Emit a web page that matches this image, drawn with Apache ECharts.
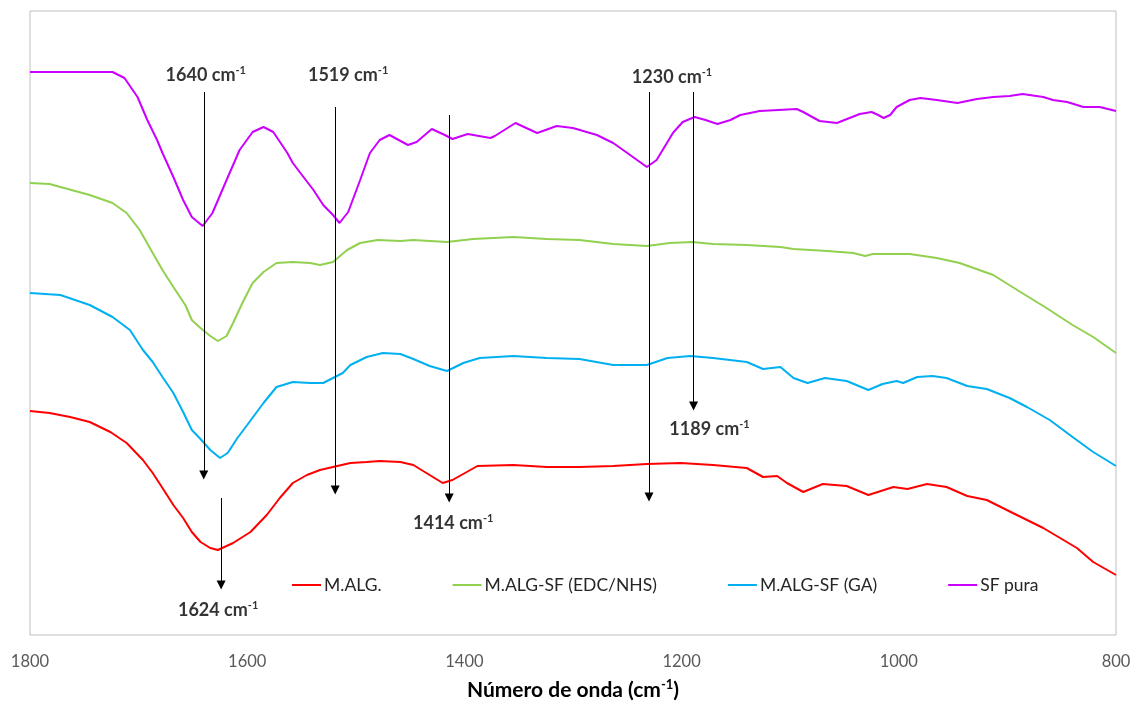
<!DOCTYPE html>
<html>
<head>
<meta charset="utf-8">
<script src="https://cdn.jsdelivr.net/npm/echarts@6/dist/echarts.min.js"></script>
<style>
  html, body { margin: 0; padding: 0; background: #fff; }
  #chart { width: 1137px; height: 704px; }
</style>
</head>
<body>
<div id="chart"></div>
<script>
// FTIR spectra: [wavenumber (cm-1), transmittance (a.u., stacked with offsets)]
const seriesNames = ['M.ALG.', 'M.ALG-SF (EDC/NHS)', 'M.ALG-SF (GA)', 'SF pura'];

const mAlg = [
  [1800,22.4],[1782,22.2],[1763,21.8],[1745,21.3],[1726,20.3],[1711,19.2],[1696,17.5],[1687,16.2],
  [1678,14.7],[1668,13.0],[1659,11.7],[1651,10.3],[1643,9.3],[1634,8.7],[1627,8.5],[1613,9.2],
  [1597,10.3],[1582,12.0],[1570,13.7],[1558,15.2],[1545,16.0],[1533,16.5],[1521,16.8],[1505,17.2],
  [1490,17.3],[1478,17.4],[1459,17.3],[1447,17.0],[1432,16.0],[1420,15.2],[1411,15.5],[1388,16.9],
  [1355,17.0],[1324,16.8],[1294,16.8],[1263,16.9],[1232,17.1],[1201,17.2],[1171,17.0],[1140,16.7],
  [1125,15.8],[1112,15.9],[1103,15.2],[1088,14.3],[1070,15.1],[1048,14.9],[1028,14.0],[1005,14.8],
  [992,14.6],[974,15.1],[956,14.8],[937,13.9],[919,13.5],[895,12.2],[867,10.7],[836,8.7],
  [821,7.3],[800,6.0]
];

const mAlgSfEdc = [
  [1800,45.2],[1782,45.1],[1745,44.0],[1724,43.2],[1711,42.2],[1699,40.5],[1687,38.2],[1678,36.5],
  [1668,34.8],[1657,33.0],[1651,31.5],[1643,30.7],[1634,29.9],[1627,29.4],[1619,29.9],[1613,31.2],
  [1604,33.3],[1595,35.2],[1585,36.3],[1573,37.2],[1558,37.3],[1542,37.2],[1533,37.0],[1521,37.3],
  [1508,38.5],[1496,39.2],[1480,39.5],[1459,39.4],[1447,39.5],[1416,39.3],[1392,39.6],[1355,39.8],
  [1324,39.6],[1294,39.5],[1263,39.1],[1232,38.9],[1211,39.2],[1190,39.3],[1171,39.1],[1140,39.0],
  [1109,38.8],[1097,38.6],[1066,38.4],[1042,38.2],[1031,37.9],[1024,38.1],[990,38.1],[965,37.7],
  [944,37.2],[913,36.0],[888,34.3],[864,32.7],[840,31.0],[821,29.8],[800,28.2]
];

const mAlgSfGa = [
  [1800,34.2],[1772,34.0],[1745,33.0],[1724,31.8],[1708,30.5],[1696,28.5],[1687,27.3],[1678,25.8],
  [1668,24.2],[1659,22.3],[1651,20.5],[1643,19.6],[1634,18.5],[1625,17.7],[1618,18.2],[1609,19.7],
  [1600,21.0],[1585,23.2],[1573,24.8],[1558,25.3],[1542,25.2],[1530,25.2],[1521,25.7],[1512,26.2],
  [1505,27.0],[1490,27.8],[1475,28.2],[1459,28.1],[1447,27.6],[1432,26.9],[1416,26.4],[1401,27.2],
  [1386,27.7],[1355,27.9],[1324,27.7],[1294,27.6],[1263,27.0],[1232,27.0],[1213,27.7],[1192,27.9],
  [1171,27.7],[1140,27.3],[1125,26.6],[1109,26.8],[1097,25.7],[1084,25.2],[1068,25.7],[1048,25.4],
  [1028,24.5],[1015,25.1],[1002,25.4],[996,25.2],[983,25.8],[969,25.9],[956,25.7],[937,24.9],
  [919,24.6],[898,23.7],[882,22.8],[861,21.5],[840,19.8],[821,18.3],[800,16.9]
];

const sfPura = [
  [1800,56.3],[1724,56.3],[1713,55.7],[1701,53.8],[1692,51.5],[1683,49.5],[1678,48.2],[1668,45.8],
  [1659,43.5],[1651,41.8],[1641,40.9],[1632,42.2],[1619,45.5],[1607,48.5],[1595,50.3],[1585,50.8],
  [1576,50.3],[1563,48.2],[1558,47.2],[1551,46.2],[1539,44.5],[1530,43.0],[1521,42.0],[1515,41.2],
  [1507,42.3],[1496,45.5],[1487,48.2],[1478,49.5],[1469,50.0],[1452,49.0],[1444,49.3],[1430,50.6],
  [1418,50.0],[1411,49.6],[1397,50.1],[1376,49.7],[1372,49.9],[1353,51.2],[1333,50.2],[1315,50.9],
  [1300,50.7],[1278,50.0],[1263,49.2],[1250,48.2],[1232,46.8],[1223,47.5],[1208,50.2],[1199,51.3],
  [1188,51.8],[1178,51.5],[1167,51.1],[1155,51.5],[1146,52.0],[1128,52.4],[1094,52.6],[1088,52.3],
  [1073,51.4],[1057,51.2],[1036,52.1],[1025,52.3],[1019,52.0],[1014,51.7],[1008,52.0],[1002,52.8],
  [990,53.5],[980,53.7],[965,53.5],[946,53.2],[928,53.6],[913,53.8],[898,53.9],[886,54.1],
  [867,53.8],[858,53.5],[845,53.3],[830,52.8],[815,52.8],[800,52.4]
];

// Marked bands: wavenumber, arrow start (top) and arrow tip (bottom) in a.u.
const peakWavenumbers = [1640, 1519, 1414, 1230, 1189, 1624];
const peakArrowTop    = [54.3, 52.8, 52.0, 54.3, 54.3, 13.7];
const peakArrowTip    = [16.0, 14.5, 13.7, 13.8, 22.9, 5.0];

const xTicks = [1800, 1600, 1400, 1200, 1000, 800];

// Label placement for each band annotation (side of the arrow and pixel nudge)
const peakLabelSide = ['top', 'top', 'bottom', 'top', 'bottom', 'bottom'];
const peakLabelNudge = [[2, -17], [13, -32], [4, 25], [23, -15], [16, 23], [-3, 25]];

const colors = ['#FF0000', '#92D050', '#00B0F0', '#CC00FF'];
const FONT = 'Lato, "Open Sans", sans-serif';

const spectra = [mAlg, mAlgSfEdc, mAlgSfGa, sfPura];

const lineSeries = spectra.map((d, i) => ({
  name: seriesNames[i],
  type: 'line',
  data: d,
  symbol: 'none',
  smooth: false,
  lineStyle: { color: colors[i], width: 2 },
  itemStyle: { color: colors[i] },
  silent: true,
  z: 2
}));

const arrowSeries = {
  name: 'bands',
  type: 'line',
  data: [],
  silent: true,
  z: 5,
  markLine: {
    silent: true,
    animation: false,
    symbol: ['none', 'triangle'],
    symbolSize: [9, 9],
    label: { show: false },
    lineStyle: { color: '#000', width: 1, type: 'solid' },
    emphasis: { disabled: true },
    data: peakWavenumbers.map((w, i) => [
      { coord: [w, peakArrowTop[i]] },
      { coord: [w, peakArrowTip[i]] }
    ])
  }
};

const labelSeries = {
  name: 'band labels',
  type: 'scatter',
  silent: true,
  symbolSize: 1,
  itemStyle: { color: 'rgba(0,0,0,0)' },
  z: 6,
  data: peakWavenumbers.map((w, i) => ({
    value: [w, peakLabelSide[i] === 'top' ? peakArrowTop[i] : peakArrowTip[i]],
    label: {
      show: true,
      position: 'inside',
      offset: peakLabelNudge[i],
      formatter: p => '{n|' + p.value[0] + ' cm}{s|-1}',
      rich: {
        n: { fontFamily: FONT, fontWeight: 'bold', fontSize: 18, color: '#000', lineHeight: 20 },
        s: { fontFamily: FONT, fontWeight: 'bold', fontSize: 11, color: '#000', verticalAlign: 'top', lineHeight: 14 }
      }
    }
  }))
};

const chart = echarts.init(document.getElementById('chart'), null, { renderer: 'canvas' });

chart.setOption({
  animation: false,
  backgroundColor: '#fff',
  grid: {
    left: 30, right: 21, top: 11, bottom: 69,
    outerBoundsMode: 'none',
    containLabel: false,
    show: true, borderColor: '#BFBFBF', borderWidth: 1, backgroundColor: 'transparent'
  },
  legend: {
    data: seriesNames,
    left: 292,
    top: 576,
    padding: 0,
    icon: 'rect',
    itemWidth: 29,
    itemHeight: 2,
    itemGap: 71,
    textStyle: { fontFamily: FONT, fontSize: 17.5, color: '#262626', padding: [0, 0, 0, -2] },
    selectedMode: false
  },
  xAxis: {
    type: 'value',
    inverse: true,
    min: 800,
    max: 1800,
    interval: 200,
    axisLine: { show: false },
    axisTick: { show: false },
    splitLine: { show: false },
    axisLabel: {
      fontFamily: FONT, fontSize: 16.5, color: '#595959', margin: 18,
      showMinLabel: true, showMaxLabel: true,
      formatter: v => xTicks.includes(v) ? String(v) : ''
    },
    name: '{b|Número de onda (cm}{s|-1}{b|)}',
    nameLocation: 'middle',
    nameGap: 43,
    nameTextStyle: {
      rich: {
        b: { fontFamily: FONT, fontWeight: 'bold', fontSize: 21, color: '#000', lineHeight: 24 },
        s: { fontFamily: FONT, fontWeight: 'bold', fontSize: 13, color: '#000', verticalAlign: 'top', lineHeight: 16 }
      }
    }
  },
  yAxis: {
    type: 'value',
    min: 0,
    max: 62.4,
    show: false,
    splitLine: { show: false }
  },
  series: [...lineSeries, arrowSeries, labelSeries]
});
</script>
</body>
</html>
